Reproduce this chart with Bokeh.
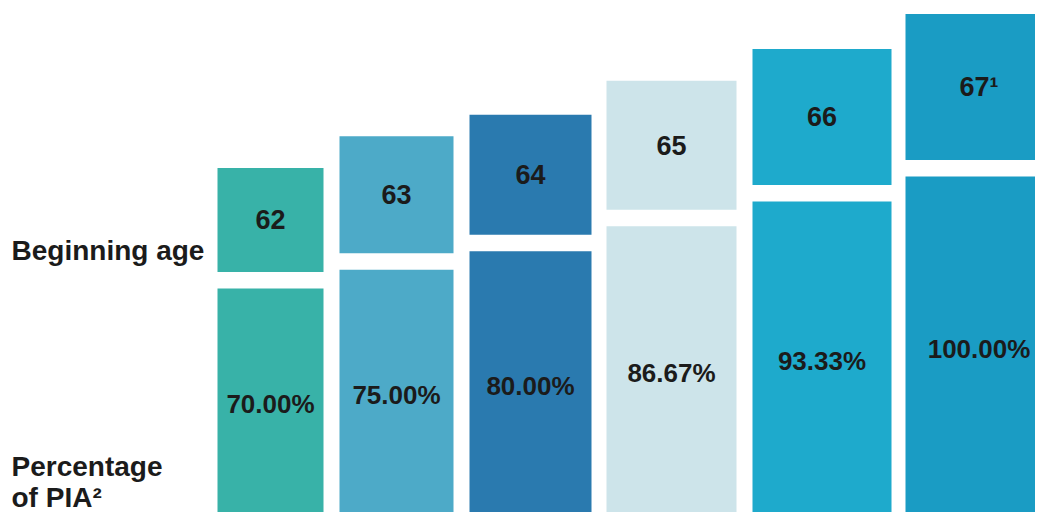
from bokeh.plotting import figure
from bokeh.models import Range1d, Label, ColumnDataSource
from bokeh.core.properties import value
from bokeh.embed import file_html
from bokeh.resources import INLINE

# ---------------- data ----------------
ages = ["62", "63", "64", "65", "66", "67\u00b9"]
pia_pct = [70.00, 75.00, 80.00, 86.67, 93.33, 100.00]
pct_labels = ["70.00%", "75.00%", "80.00%", "86.67%", "93.33%", "100.00%"]
row_label_top = "Beginning age"
row_label_bottom_1 = "Percentage"
row_label_bottom_2 = "of PIA\u00b2"

# ---------------- styles ----------------
colors = ["#38b2a8", "#4daac8", "#2a7aaf", "#cde4ea", "#1eaacc", "#1a9cc4"]
col_widths_px = [106, 114, 122, 130, 139, 147]
col_gaps_px = [16, 16, 15, 16, 14]
first_left_px = 217
age_box_h_px = [104, 117, 120, 129, 136, 146]
box_gap_px = 16.5
FONT = "Liberation Sans"
TXT = "#1b1b1b"

W, H = 1035, 512
PX_PER_UNIT = 3.733          # pixels per percentage point
ZERO_PX = 549.3              # vertical pixel where 0 % would sit (below the visible area)
y_top = ZERO_PX / PX_PER_UNIT
y_bottom = (ZERO_PX - H) / PX_PER_UNIT
y_visible_bottom = (ZERO_PX - 520) / PX_PER_UNIT

# column layout (x in pixels)
lefts, rights = [], []
x = first_left_px
for i, w in enumerate(col_widths_px):
    lefts.append(x)
    rights.append(x + w)
    if i < len(col_gaps_px):
        x = x + w + col_gaps_px[i]
centers = [(l + r) / 2 for l, r in zip(lefts, rights)]

gap_u = box_gap_px / PX_PER_UNIT
age_bottom = [p + gap_u for p in pia_pct]
age_top = [b + h / PX_PER_UNIT for b, h in zip(age_bottom, age_box_h_px)]
age_mid = [(b + t) / 2 for b, t in zip(age_bottom, age_top)]
pct_mid = [(p + y_visible_bottom) / 2 for p in pia_pct]

src = ColumnDataSource(dict(
    left=lefts, right=rights, center=centers, pct=pia_pct,
    base=[0] * len(pia_pct), age_bottom=age_bottom, age_top=age_top,
    age_mid=age_mid, pct_mid=pct_mid, color=colors,
    age=ages, pct_label=pct_labels,
))

p = figure(width=W, height=H, output_backend="svg", toolbar_location=None,
           x_range=Range1d(0, W), y_range=Range1d(y_bottom, y_top),
           min_border=0, min_border_left=0, min_border_right=0,
           min_border_top=0, min_border_bottom=0)
p.axis.visible = False
p.grid.visible = False
p.outline_line_color = None
p.background_fill_color = "white"
p.border_fill_color = "white"

# percentage-of-PIA boxes
p.quad(left="left", right="right", bottom="base", top="pct", source=src,
       fill_color="color", line_color=None)
# beginning-age boxes
p.quad(left="left", right="right", bottom="age_bottom", top="age_top", source=src,
       fill_color="color", line_color=None)

p.text(x="center", y="age_mid", text="age", source=src,
       text_font=value(FONT), text_font_style="bold", text_font_size="27px",
       text_color=TXT, text_align="center", text_baseline="middle")
p.text(x="center", y="pct_mid", text="pct_label", source=src,
       text_font=value(FONT), text_font_style="bold", text_font_size="26px",
       text_color=TXT, text_align="center", text_baseline="middle")

for txt, sy in [(row_label_top, 262), (row_label_bottom_1, 46), (row_label_bottom_2, 15)]:
    p.add_layout(Label(x=11, y=sy, x_units="screen", y_units="screen", text=txt,
                       text_font=FONT, text_font_style="bold", text_font_size="28px",
                       text_color=TXT, text_align="left", text_baseline="alphabetic"))

open("out.html", "w").write(file_html(p, INLINE))
